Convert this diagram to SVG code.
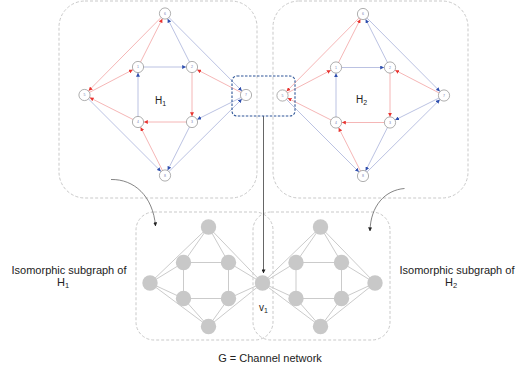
<svg xmlns="http://www.w3.org/2000/svg" width="519" height="373" viewBox="0 0 519 373">
<style>
.box{fill:none;stroke:#c9c9c9;stroke-width:1;stroke-dasharray:3 2}
.r{stroke:#f3a3a3;stroke-width:0.8;marker-end:url(#ar)}
.b{stroke:#a9b3da;stroke-width:0.8;marker-end:url(#ab)}
.n circle{fill:#fff;stroke:#8c8c8c;stroke-width:0.7}
.n text{font-family:"Liberation Sans",Arial,sans-serif;font-size:3.5px;fill:#7583b5;text-anchor:middle}
.g{fill:none;stroke:#cbcbcb;stroke-width:1}
.gn circle{fill:#c8c8c8}
.lbl{font-family:"Liberation Sans",Arial,sans-serif;font-size:11px;fill:#222;text-anchor:middle}
.h{font-family:"Liberation Sans",Arial,sans-serif;font-size:10px;fill:#222}
</style>
<defs>
<marker id="ar" viewBox="0 0 10 10" markerWidth="4" markerHeight="4" refX="24.5" refY="5" orient="auto" markerUnits="userSpaceOnUse"><path d="M0,0L10,5L0,10z" fill="#e8332f"/></marker>
<marker id="ab" viewBox="0 0 10 10" markerWidth="4" markerHeight="4" refX="24.5" refY="5" orient="auto" markerUnits="userSpaceOnUse"><path d="M0,0L10,5L0,10z" fill="#2f4fae"/></marker>
<marker id="ak" viewBox="0 0 10 10" markerWidth="4" markerHeight="4" refX="9" refY="5" orient="auto" markerUnits="userSpaceOnUse"><path d="M0,0L10,5L0,10z" fill="#222"/></marker>
</defs>

<g id="containers">
<rect class="box" x="59" y="1" width="198" height="197" rx="26"/>
<rect class="box" x="273" y="1" width="195" height="197" rx="26"/>
<rect class="box" x="136" y="212" width="137" height="128" rx="18"/>
<rect class="box" x="253" y="212" width="137" height="128" rx="18"/>
</g>

<g id="connectors">
<g id="h1-edges">
<line class="r" x1="138" y1="67" x2="165" y2="13.5"/>
<line class="r" x1="165" y1="13.5" x2="84.5" y2="95"/>
<line class="b" x1="192" y1="67" x2="165" y2="13.5"/>
<line class="b" x1="165" y1="13.5" x2="246" y2="95"/>
<line class="b" x1="138" y1="67" x2="192" y2="67"/>
<line class="r" x1="84.5" y1="95" x2="138" y2="67"/>
<line class="r" x1="246" y1="95" x2="192" y2="67"/>
<line class="r" x1="192" y1="67" x2="192" y2="122"/>
<line class="b" x1="138" y1="122" x2="138" y2="67"/>
<line class="r" x1="192" y1="122" x2="138" y2="122"/>
<line class="r" x1="138" y1="122" x2="84.5" y2="95"/>
<line class="b" x1="246" y1="95" x2="192" y2="122"/>
<line class="b" x1="84.5" y1="95" x2="165" y2="175.5"/>
<line class="r" x1="165" y1="175.5" x2="138" y2="122"/>
<line class="b" x1="192" y1="122" x2="165" y2="175.5"/>
<line class="b" x1="165" y1="175.5" x2="246" y2="95"/>
</g>
<g id="h2-edges" transform="translate(198,0.5)">
<line class="r" x1="138" y1="67" x2="165" y2="13.5"/>
<line class="r" x1="165" y1="13.5" x2="84.5" y2="95"/>
<line class="b" x1="192" y1="67" x2="165" y2="13.5"/>
<line class="b" x1="165" y1="13.5" x2="246" y2="95"/>
<line class="b" x1="138" y1="67" x2="192" y2="67"/>
<line class="r" x1="84.5" y1="95" x2="138" y2="67"/>
<line class="r" x1="246" y1="95" x2="192" y2="67"/>
<line class="r" x1="192" y1="67" x2="192" y2="122"/>
<line class="b" x1="138" y1="122" x2="138" y2="67"/>
<line class="r" x1="192" y1="122" x2="138" y2="122"/>
<line class="r" x1="138" y1="122" x2="84.5" y2="95"/>
<line class="b" x1="246" y1="95" x2="192" y2="122"/>
<line class="b" x1="84.5" y1="95" x2="165" y2="175.5"/>
<line class="r" x1="165" y1="175.5" x2="138" y2="122"/>
<line class="b" x1="192" y1="122" x2="165" y2="175.5"/>
<line class="b" x1="165" y1="175.5" x2="246" y2="95"/>
</g>
<g id="g-edges">
<path class="g" d="M208.5,227L183.5,262.5L228.5,262.5L208.5,227M183.5,262.5L183.5,298.5L228.5,298.5L228.5,262.5M150,283L183.5,262.5M150,283L183.5,298.5M150,283L208.5,227M150,283L208.5,326.5L183.5,298.5M208.5,326.5L228.5,298.5M208.5,227L262.5,283L208.5,326.5M228.5,262.5L262.5,283L228.5,298.5"/>
<path class="g" d="M320.5,227L296,262.5L341.5,262.5L320.5,227M296,262.5L296,298.5L341.5,298.5L341.5,262.5M375,283L341.5,262.5M375,283L341.5,298.5M375,283L320.5,227M375,283L320.5,326.5L296,298.5M320.5,326.5L341.5,298.5M320.5,227L262.5,283L320.5,326.5M296,262.5L262.5,283L296,298.5"/>
</g>
<path d="M263.5,116L263.5,273" fill="none" stroke="#555" stroke-width="0.9" marker-end="url(#ak)"/>
<path d="M111,179.5C134,179 153,196 155.5,226" fill="none" stroke="#666" stroke-width="0.8" marker-end="url(#ak)"/>
<path d="M404.5,188.5C385,190 370.5,206 370,231" fill="none" stroke="#666" stroke-width="0.8" marker-end="url(#ak)"/>
</g>

<g id="h1">
<g id="h1-n6" class="n"><circle cx="165" cy="13.5" r="5.6"/><text x="165" y="14.7">6</text></g>
<g id="h1-n1" class="n"><circle cx="138" cy="67" r="5.6"/><text x="138" y="68.2">1</text></g>
<g id="h1-n2" class="n"><circle cx="192" cy="67" r="5.6"/><text x="192" y="68.2">2</text></g>
<g id="h1-n5" class="n"><circle cx="84.5" cy="95" r="5.6"/><text x="84.5" y="96.2">5</text></g>
<g id="h1-n7" class="n"><circle cx="246" cy="95" r="5.6"/><text x="246" y="96.2">7</text></g>
<g id="h1-n4" class="n"><circle cx="138" cy="122" r="5.6"/><text x="138" y="123.2">4</text></g>
<g id="h1-n3" class="n"><circle cx="192" cy="122" r="5.6"/><text x="192" y="123.2">3</text></g>
<g id="h1-n8" class="n"><circle cx="165" cy="175.5" r="5.6"/><text x="165" y="176.7">8</text></g>
<text id="h1-label" class="h" x="155" y="104">H<tspan font-size="7" dy="2">1</tspan></text>
</g>

<g id="h2" transform="translate(198,0.5)">
<g id="h2-n6" class="n"><circle cx="165" cy="13.5" r="5.6"/><text x="165" y="14.7">6</text></g>
<g id="h2-n1" class="n"><circle cx="138" cy="67" r="5.6"/><text x="138" y="68.2">1</text></g>
<g id="h2-n2" class="n"><circle cx="192" cy="67" r="5.6"/><text x="192" y="68.2">2</text></g>
<g id="h2-n5" class="n"><circle cx="84.5" cy="95" r="5.6"/><text x="84.5" y="96.2">5</text></g>
<g id="h2-n7" class="n"><circle cx="246" cy="95" r="5.6"/><text x="246" y="96.2">7</text></g>
<g id="h2-n4" class="n"><circle cx="138" cy="122" r="5.6"/><text x="138" y="123.2">4</text></g>
<g id="h2-n3" class="n"><circle cx="192" cy="122" r="5.6"/><text x="192" y="123.2">3</text></g>
<g id="h2-n8" class="n"><circle cx="165" cy="175.5" r="5.6"/><text x="165" y="176.7">8</text></g>
<text id="h2-label" class="h" x="158" y="102">H<tspan font-size="7" dy="2">2</tspan></text>
</g>

<g id="highlight">
<rect x="232" y="76" width="63" height="40" rx="5" fill="none" stroke="#2e5597" stroke-width="1.1" stroke-dasharray="2.5 1.5"/>
</g>

<g id="g-nodes" class="gn">
<g id="g-a1"><circle cx="208.5" cy="227" r="7.7"/></g>
<g id="g-a2"><circle cx="183.5" cy="262.5" r="7.7"/></g>
<g id="g-a3"><circle cx="228.5" cy="262.5" r="7.7"/></g>
<g id="g-a4"><circle cx="150" cy="283" r="7.7"/></g>
<g id="g-a5"><circle cx="183.5" cy="298.5" r="7.7"/></g>
<g id="g-a6"><circle cx="228.5" cy="298.5" r="7.7"/></g>
<g id="g-a7"><circle cx="208.5" cy="326.5" r="7.7"/></g>
<g id="g-v1"><circle cx="262.5" cy="283" r="7.7"/></g>
<g id="g-b1"><circle cx="320.5" cy="227" r="7.7"/></g>
<g id="g-b2"><circle cx="296" cy="262.5" r="7.7"/></g>
<g id="g-b3"><circle cx="341.5" cy="262.5" r="7.7"/></g>
<g id="g-b4"><circle cx="375" cy="283" r="7.7"/></g>
<g id="g-b5"><circle cx="296" cy="298.5" r="7.7"/></g>
<g id="g-b6"><circle cx="341.5" cy="298.5" r="7.7"/></g>
<g id="g-b7"><circle cx="320.5" cy="326.5" r="7.7"/></g>
</g>

<g id="labels">
<text class="h" x="259" y="311">v<tspan font-size="7" dy="2">1</tspan></text>
<text class="lbl" x="69" y="274">Isomorphic subgraph of</text>
<text class="lbl" x="63" y="286">H<tspan font-size="7.5" dy="2">1</tspan></text>
<text class="lbl" x="457" y="274">Isomorphic subgraph of</text>
<text class="lbl" x="451" y="286">H<tspan font-size="7.5" dy="2">2</tspan></text>
<text class="lbl" x="270" y="361.5">G = Channel network</text>
</g>
</svg>
